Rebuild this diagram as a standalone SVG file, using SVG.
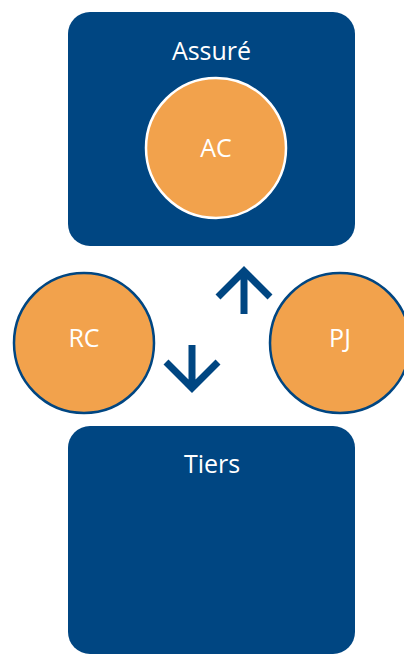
<svg xmlns="http://www.w3.org/2000/svg" width="404" height="655" viewBox="0 0 404 655">
<style>
.box{fill:#004682}
.circ{fill:#F2A24C;stroke:#004682;stroke-width:2.5}
.lbl{font-family:"Open Sans","Liberation Sans",sans-serif;font-size:25px;fill:#ffffff;text-anchor:middle}
.arr{fill:none;stroke:#004682;stroke-width:7}
</style>
<rect width="404" height="655" fill="#ffffff"/>
<g id="assure">
<rect class="box" x="68" y="12" width="287" height="234" rx="22"/>
<text class="lbl" x="211.5" y="60">Assuré</text>
</g>
<g id="ac">
<circle class="circ" cx="216" cy="148" r="70" style="stroke:#ffffff"/>
<text class="lbl" x="216" y="157">AC</text>
</g>
<g id="tiers">
<rect class="box" x="68" y="426" width="287" height="228" rx="22"/>
<text class="lbl" x="212" y="473">Tiers</text>
</g>
<g id="rc">
<circle class="circ" cx="84" cy="343" r="70"/>
<text class="lbl" x="84" y="347">RC</text>
</g>
<g id="pj">
<circle class="circ" cx="340" cy="343" r="70"/>
<text class="lbl" x="340" y="347">PJ</text>
</g>
<g id="connectors">
<path class="arr" d="M244 314 V273 M218 297 L244 271 L270 297"/>
<path class="arr" d="M192 345 V386 M166 362 L192 388 L218 362"/>
</g>
</svg>
